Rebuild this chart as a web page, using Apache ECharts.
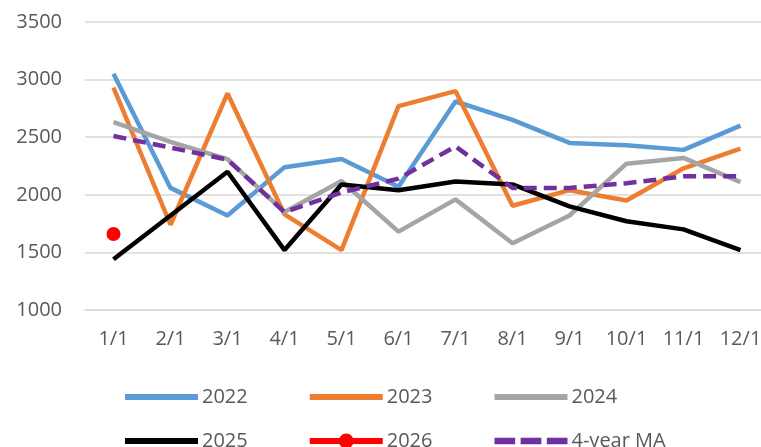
<!DOCTYPE html>
<html>
<head>
<meta charset="utf-8">
<script src="https://cdn.jsdelivr.net/npm/echarts@6/dist/echarts.min.js"></script>
<style>
  html, body { margin: 0; padding: 0; background: #fff; }
  #main { width: 761px; height: 447px; }
</style>
</head>
<body>
<div id="main"></div>
<script>
var categories = ['1/1', '2/1', '3/1', '4/1', '5/1', '6/1', '7/1', '8/1', '9/1', '10/1', '11/1', '12/1'];
var y2022 = [3050, 2060, 1820, 2240, 2310, 2070, 2810, 2650, 2450, 2430, 2390, 2600];
var y2023 = [2930, 1740, 2880, 1830, 1520, 2770, 2900, 1905, 2040, 1950, 2230, 2400];
var y2024 = [2630, 2460, 2310, 1850, 2120, 1680, 1960, 1580, 1820, 2270, 2320, 2110];
var y2025 = [1440, 1820, 2200, 1520, 2090, 2040, 2115, 2090, 1900, 1770, 1700, 1520];
var y2026 = [1660];
var ma4 = [2510, 2410, 2305, 1850, 2020, 2140, 2420, 2060, 2060, 2100, 2160, 2160];
var yTicks = [1000, 1500, 2000, 2500, 3000, 3500];

var font = 'Open Sans';
var textColor = '#595959';

// legend icons drawn like the spreadsheet ones
var solidIcon = 'path://M0,5h73v6h-73z';
var dotIcon = 'path://M0,5h73v6h-73z M29,8a7.5,7.5 0 1,1 15,0a7.5,7.5 0 1,1 -15,0z';
var dashIcon = 'path://M0,5h19v6h-19z M24,5h19v6h-19z M48,5h19v6h-19z';

function line(name, data, color, extra) {
    var s = {
        name: name,
        type: 'line',
        data: data,
        symbol: 'none',
        lineStyle: { color: color, width: 4.5 },
        itemStyle: { color: color },
        animation: false
    };
    return Object.assign(s, extra || {});
}

var legendBase = {
    left: 125,
    padding: 0,
    itemWidth: 73, itemHeight: 16, itemGap: 62,
    itemStyle: { borderWidth: 0 },
    textStyle: { color: textColor, fontFamily: font, fontSize: 20, padding: [0, 0, 0, -1] }
};

var chart = echarts.init(document.getElementById('main'));
var option = {
    animation: false,
    grid: { left: 85, right: -8, top: 22, bottom: 137, outerBoundsMode: 'none' },
    xAxis: {
        type: 'category',
        data: categories,
        boundaryGap: true,
        axisLine: { show: true, lineStyle: { color: '#D9D9D9', width: 1.5 } },
        axisTick: { show: false },
        axisLabel: { color: textColor, fontFamily: font, fontSize: 20, margin: 19 }
    },
    yAxis: {
        type: 'value',
        min: yTicks[0],
        max: yTicks[yTicks.length - 1],
        interval: 500,
        axisLine: { show: false },
        axisTick: { show: false },
        splitLine: { lineStyle: { color: '#D9D9D9', width: 1.5 } },
        axisLabel: { color: textColor, fontFamily: font, fontSize: 20, margin: 23, formatter: function (v) { return String(v); } }
    },
    legend: [
        Object.assign({}, legendBase, {
            top: 387,
            data: [
                { name: '2022', icon: solidIcon },
                { name: '2023', icon: solidIcon },
                { name: '2024', icon: solidIcon }
            ]
        }),
        Object.assign({}, legendBase, {
            top: 431,
            data: [
                { name: '2025', icon: solidIcon },
                { name: '2026', icon: dotIcon },
                { name: '4-year MA', icon: dashIcon }
            ]
        })
    ],
    series: [
        line('2022', y2022, '#5B9BD5'),
        line('2023', y2023, '#ED7D31'),
        line('2024', y2024, '#A5A5A5'),
        line('2025', y2025, '#000000'),
        line('2026', y2026, '#FF0000', { symbol: 'circle', symbolSize: 14, showSymbol: true }),
        line('4-year MA', ma4, '#7030A0', { lineStyle: { color: '#7030A0', width: 4.5, type: [13, 7] } })
    ]
};
chart.setOption(option);
</script>
</body>
</html>
